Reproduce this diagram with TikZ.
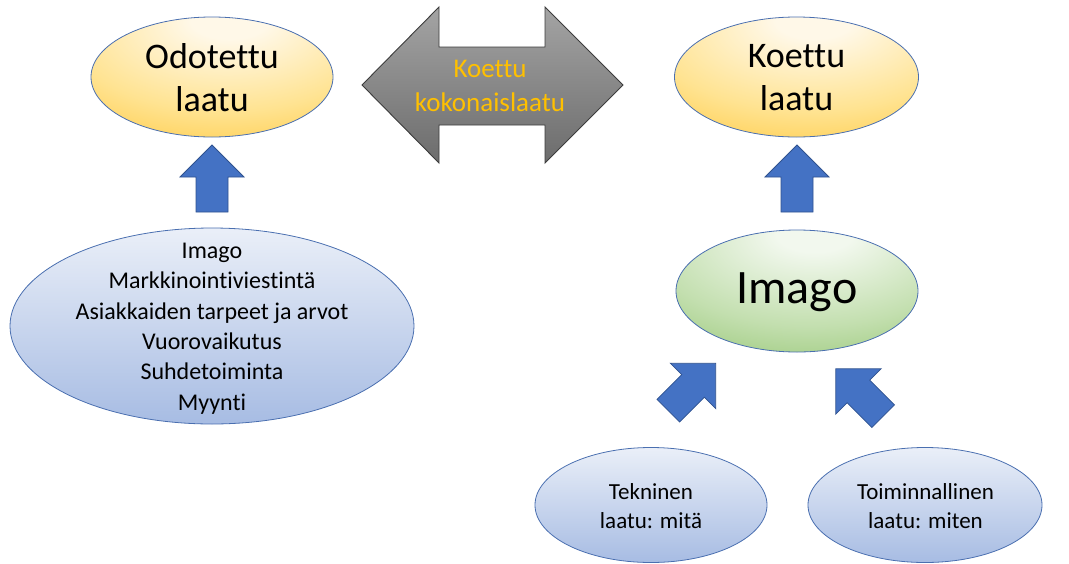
\documentclass[tikz,border=0pt]{standalone}
\usepackage{fontspec}
\setmainfont{Carlito}[Ligatures={NoCommon}]
\usetikzlibrary{shapes.geometric}

\definecolor{arrowblue}{HTML}{4472C4}
\definecolor{arrowedge}{HTML}{2F528F}
\definecolor{ovaledge}{HTML}{4A6FB0}
\definecolor{goldA}{HTML}{FFF8E8}
\definecolor{goldB}{HTML}{FFE391}
\definecolor{goldC}{HTML}{FFC73A}
\definecolor{goldD}{HTML}{FCBF22}
\definecolor{greenA}{HTML}{F2F8EE}
\definecolor{greenB}{HTML}{C3DFAF}
\definecolor{greenC}{HTML}{8DC169}
\definecolor{greenD}{HTML}{76B04E}
\definecolor{blueTop}{HTML}{EAEFF8}
\definecolor{blueBot}{HTML}{A7BCE3}
\definecolor{greyTop}{HTML}{A4A4A4}
\definecolor{greyBot}{HTML}{6C6C6C}
\definecolor{greyEdge}{HTML}{3C3C3C}
\definecolor{titlegold}{HTML}{FFC000}

% soft glow from the upper middle of an oval
\pgfdeclareradialshading{goldglow}{\pgfpoint{4bp}{26bp}}{%
  color(0bp)=(goldA); color(8bp)=(goldA); color(32bp)=(goldB);
  color(52bp)=(goldC); color(75bp)=(goldD); color(100bp)=(goldD)}
\pgfdeclareradialshading{greenglow}{\pgfpoint{4bp}{26bp}}{%
  color(0bp)=(greenA); color(8bp)=(greenA); color(32bp)=(greenB);
  color(54bp)=(greenC); color(75bp)=(greenD); color(100bp)=(greenD)}

\tikzset{
  oval/.style={ellipse, draw=ovaledge, line width=0.8pt, inner sep=0pt},
  goldoval/.style={oval, shade, shading=goldglow},
  greenoval/.style={oval, shade, shading=greenglow},
  blueoval/.style={oval, top color=blueTop, bottom color=blueBot},
  blockarrow/.style={fill=arrowblue, draw=arrowedge, line width=0.8pt, line join=miter},
  bigarrow/.style={top color=greyTop, bottom color=greyBot, draw=greyEdge,
    line width=0.9pt, line join=miter},
  caption/.style={align=center, inner sep=0pt, text=black},
  blockarr/.pic={
    \path[blockarrow] (-33.5,-16) -- (1.5,-16) -- (1.5,-32) -- (33.5,0)
      -- (1.5,32) -- (1.5,16) -- (-33.5,16) -- cycle;
  }
}

\begin{document}
\begin{tikzpicture}[x=1pt,y=-1pt]
\useasboundingbox (0,0) rectangle (1069,563);

% ovals
\node[goldoval, minimum width=242pt, minimum height=120pt] (odotettu) at (212,77) {};
\node[goldoval, minimum width=244pt, minimum height=120pt] (koettu) at (796.5,77) {};
\node[greenoval, minimum width=242pt, minimum height=122pt] (imago) at (797,291) {};
\node[blueoval, minimum width=404pt, minimum height=196pt] (tekijat) at (212,326) {};
\node[blueoval, minimum width=232pt, minimum height=115pt] (tekninen) at (651,505) {};
\node[blueoval, minimum width=234pt, minimum height=115pt] (toiminnal) at (925,505) {};

% texts of the ovals (canvas yshift: negative moves down)
\node[caption, font=\fontsize{36}{43}\selectfont] (odotettuT) at ([yshift=-1pt]odotettu.center) {Odotettu\\laatu};
\node[caption, font=\fontsize{36}{43}\selectfont] (koettuT) at ([yshift=-1pt]koettu.center) {Koettu\\laatu};
\node[caption, font=\fontsize{48}{58}\selectfont] (imagoT) at ([yshift=-1pt]imago.center) {Imago};
\node[caption, font=\fontsize{24}{30.4}\selectfont] (tekijatT) at ([yshift=-2.5pt]tekijat.center)
  {Imago\\Markkinointiviestintä\\Asiakkaiden tarpeet ja arvot\\Vuorovaikutus\\Suhdetoiminta\\Myynti};
\node[caption, font=\fontsize{23}{29.5}\selectfont] (tekninenT) at ([yshift=-1pt]tekninen.center) {Tekninen\\laatu: mitä};
\node[caption, font=\fontsize{23}{29.5}\selectfont] (toiminnalT) at ([xshift=0.5pt,yshift=-1pt]toiminnal.center) {Toiminnallinen\\laatu: miten};

% two-headed arrow between the upper ovals
\path[bigarrow] (362,85) -- (439,7) -- (439,47) -- (545,47) -- (545,7) -- (623,85)
  -- (545,163) -- (545,125) -- (439,125) -- (439,163) -- cycle;
\node[caption, text=titlegold, font=\fontsize{27}{34}\selectfont] (kokonais) at (490,86)
  {Koettu\\kokonaislaatu};

% block arrows
\coordinate (a1) at (212,178.5);
\coordinate (a2) at (797,178.5);
\coordinate (a3) at (692,387);
\coordinate (a4) at (859.5,392.5);
\pic[rotate=90] at (a1) {blockarr};
\pic[rotate=90] at (a2) {blockarr};
\pic[rotate=45] at (a3) {blockarr};
\pic[rotate=135] at (a4) {blockarr};
\end{tikzpicture}
\end{document}
